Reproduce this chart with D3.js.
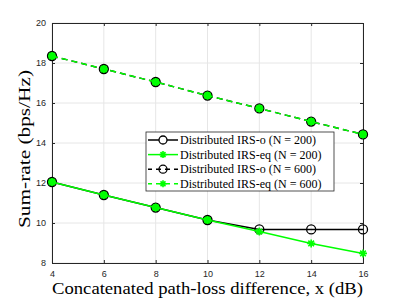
<!DOCTYPE html>
<html>
<head>
<meta charset="utf-8">
<script src="https://cdn.jsdelivr.net/npm/d3@7"></script>
<style>
  body { margin: 0; background: #fff; }
  svg { display: block; }
</style>
</head>
<body>
<div id="chart"></div>
<script>
// values
const xValues = [4, 6, 8, 10, 12, 14, 16];
const irsO200 = [12.05, 11.40, 10.77, 10.15, 9.68, 9.68, 9.68];
const irsEq200 = [12.05, 11.40, 10.77, 10.15, 9.57, 8.98, 8.48];
const irsO600 = [18.35, 17.70, 17.05, 16.37, 15.73, 15.07, 14.43];
const irsEq600 = [18.35, 17.70, 17.05, 16.37, 15.73, 15.07, 14.43];
const xTicks = [4, 6, 8, 10, 12, 14, 16];
const yTicks = [8, 10, 12, 14, 16, 18, 20];
const legendLabels = [
  'Distributed IRS-o (N = 200)',
  'Distributed IRS-eq (N = 200)',
  'Distributed IRS-o (N = 600)',
  'Distributed IRS-eq (N = 600)'
];

const W = 402, H = 301;
const margin = { top: 23, right: 39, bottom: 38, left: 52 };
const width = W - margin.left - margin.right;
const height = H - margin.top - margin.bottom;
const axisColor = '#262626';
const green = '#00ff00';
const serif = 'Liberation Serif, Times New Roman, serif';

const svg = d3.select('#chart').append('svg')
  .attr('width', W)
  .attr('height', H);

const g = svg.append('g')
  .attr('transform', `translate(${margin.left},${margin.top})`);

const x = d3.scaleLinear().domain([4, 16]).range([0, width]);
const y = d3.scaleLinear().domain([8, 20]).range([height, 0]);

// grid
g.append('g').selectAll('line').data(xTicks).enter().append('line')
  .attr('x1', d => x(d)).attr('x2', d => x(d))
  .attr('y1', 0).attr('y2', height)
  .attr('stroke', '#e6e6e6').attr('stroke-width', 1);
g.append('g').selectAll('line').data(yTicks).enter().append('line')
  .attr('y1', d => y(d)).attr('y2', d => y(d))
  .attr('x1', 0).attr('x2', width)
  .attr('stroke', '#e6e6e6').attr('stroke-width', 1);

// axes (ticks inward, box on)
const tickFont = 'Liberation Sans, Arial, sans-serif';
const xAxis = g.append('g')
  .attr('transform', `translate(0,${height})`)
  .call(d3.axisBottom(x).tickValues(xTicks).tickSize(-3).tickPadding(8));
const yAxis = g.append('g')
  .call(d3.axisLeft(y).tickValues(yTicks).tickSize(-3).tickPadding(6));
const xTop = g.append('g')
  .call(d3.axisTop(x).tickValues(xTicks).tickSize(-3).tickFormat(''));
const yRight = g.append('g')
  .attr('transform', `translate(${width},0)`)
  .call(d3.axisRight(y).tickValues(yTicks).tickSize(-3).tickFormat(''));

[xAxis, yAxis, xTop, yRight].forEach(a => {
  a.selectAll('.domain').attr('stroke', axisColor).attr('stroke-width', 1);
  a.selectAll('.tick line').attr('stroke', axisColor);
  a.selectAll('text')
    .style('font-family', tickFont)
    .style('font-size', '9px')
    .attr('fill', axisColor);
});

// series
const line = d3.line().x(d => x(d[0])).y(d => y(d[1]));
const series = [
  { values: irsO200, color: '#000000', dash: null, marker: 'o', twin: irsEq200 },
  { values: irsEq200, color: green, dash: null, marker: '*' },
  { values: irsO600, color: '#000000', dash: '6,4', marker: 'o', twin: irsEq600 },
  { values: irsEq600, color: green, dash: '6,4', marker: '*' }
];

function drawStar(sel, cx, cy, r, color) {
  const a = r * Math.SQRT1_2;
  const p = `M${cx - r},${cy}L${cx + r},${cy}M${cx},${cy - r}L${cx},${cy + r}` +
    `M${cx - a},${cy - a}L${cx + a},${cy + a}M${cx - a},${cy + a}L${cx + a},${cy - a}`;
  sel.append('path').attr('d', p).attr('stroke', color).attr('stroke-width', 1.6).attr('fill', 'none');
}

series.forEach(s => {
  const pts = xValues.map((v, i) => [v, s.values[i]]);
  g.append('path')
    .datum(pts)
    .attr('d', line)
    .attr('fill', 'none')
    .attr('stroke', s.color)
    .attr('stroke-width', 1.5)
    .attr('stroke-dasharray', s.dash);
  const mg = g.append('g');
  if (s.marker === 'o') {
    mg.selectAll('circle').data(pts).enter().append('circle')
      .attr('cx', d => x(d[0]))
      .attr('cy', d => y(d[1]))
      .attr('r', 4.5)
      .attr('fill', (d, i) => s.twin[i] === d[1] ? green : 'none')
      .attr('stroke', '#000')
      .attr('stroke-width', 1.3);
  } else {
    pts.forEach(d => drawStar(mg, x(d[0]), y(d[1]), 4, s.color));
  }
});

// legend
const lg = svg.append('g').attr('transform', 'translate(146,132)');
lg.append('rect')
  .attr('width', 188).attr('height', 59)
  .attr('fill', '#fff')
  .attr('stroke', axisColor).attr('stroke-width', 0.8);
series.forEach((s, i) => {
  const cy = 8 + i * 14.6;
  const row = lg.append('g');
  row.append('line')
    .attr('x1', 2).attr('x2', 32)
    .attr('y1', cy).attr('y2', cy)
    .attr('stroke', s.color).attr('stroke-width', 1.5)
    .attr('stroke-dasharray', s.dash ? '5,4' : null)
    .attr('stroke-dashoffset', s.dash ? 1 : null);
  if (s.marker === 'o') {
    row.append('circle').attr('cx', 17).attr('cy', cy).attr('r', 4)
      .attr('fill', s.dash ? 'none' : '#fff').attr('stroke', '#000').attr('stroke-width', 1.3);
  } else {
    drawStar(row, 17, cy, 3.5, s.color);
  }
  row.append('text')
    .attr('x', 34).attr('y', cy + 4)
    .style('font-family', serif)
    .style('font-size', '12px')
    .attr('fill', '#000')
    .text(legendLabels[i]);
});

// axis labels
svg.append('text')
  .attr('x', margin.left + width / 2).attr('y', 294)
  .attr('text-anchor', 'middle')
  .attr('textLength', 311)
  .attr('lengthAdjust', 'spacingAndGlyphs')
  .style('font-family', serif)
  .style('font-size', '17px')
  .attr('fill', '#000')
  .text('Concatenated path-loss difference, x (dB)');
svg.append('text')
  .attr('transform', `translate(30,149) rotate(-90)`)
  .attr('text-anchor', 'middle')
  .attr('textLength', 158)
  .attr('lengthAdjust', 'spacingAndGlyphs')
  .style('font-family', serif)
  .style('font-size', '17px')
  .attr('fill', '#000')
  .text('Sum-rate (bps/Hz)');
</script>
</body>
</html>
